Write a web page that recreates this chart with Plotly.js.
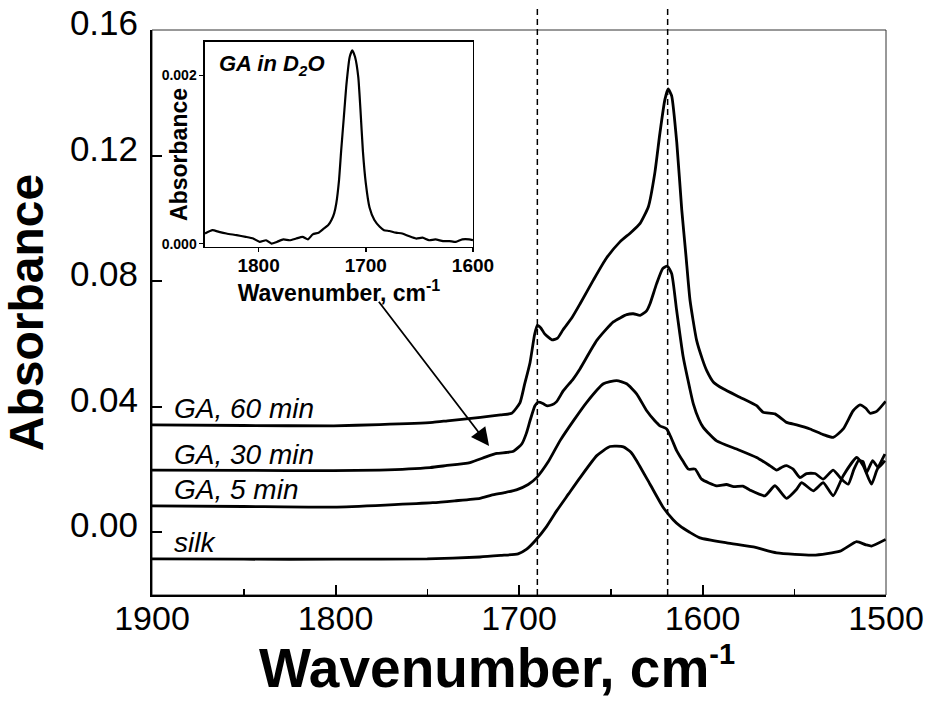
<!DOCTYPE html>
<html>
<head>
<meta charset="utf-8">
<script src="https://cdn.plot.ly/plotly-3.0.1.min.js"></script>
<style>html,body{margin:0;padding:0;background:#fff}#chart{width:932px;height:704px}</style>
</head>
<body>
<div id="chart"></div>
<script>
// ---- data ----
const wn60 = [1900,1850,1801,1776,1747,1739,1721,1710,1704,1699.5,1697,1694,1691.5,1690,1688,1686,1682,1679,1676,1671,1666.7,1659.5,1652.5,1645,1639,1634,1629.5,1626,1623.2,1620.5,1618.7,1616.8,1614,1611.3,1609,1606.8,1603.2,1600,1597.7,1594,1588.7,1579.6,1570.5,1566.9,1560.5,1554.2,1548.7,1541.4,1534.2,1528.8,1523.3,1517.9,1514.2,1511,1508.7,1505.1,1500.2];
const abs60 = [0.0342,0.0340,0.0339,0.0343,0.0350,0.0355,0.0366,0.0374,0.0379,0.0412,0.0470,0.0540,0.0630,0.0659,0.0650,0.0632,0.0613,0.0618,0.0645,0.0685,0.0728,0.0803,0.0872,0.0925,0.0955,0.0984,0.1037,0.1144,0.1272,0.1378,0.1412,0.1390,0.1240,0.1027,0.0880,0.0739,0.0611,0.0550,0.0515,0.0478,0.0457,0.0430,0.0403,0.0382,0.0377,0.0350,0.0342,0.0329,0.0311,0.0302,0.0329,0.0387,0.0406,0.0395,0.0379,0.0385,0.0417];

const wn30 = [1900,1850,1801,1776,1748.5,1740,1726.7,1718,1712,1707,1703,1698.5,1696,1694,1691.3,1689.5,1687,1685,1682,1679.5,1675.8,1670.5,1666.7,1657.6,1648.6,1641.3,1637.7,1634,1630.5,1628.6,1625,1621.7,1619.2,1616.8,1614.1,1610.5,1607,1605,1602,1599.6,1592.3,1581.4,1570.5,1563.3,1559.6,1556.5,1554.2,1550.6,1546.9,1543.3,1538.7,1534.2,1528.8,1524.2,1520.6,1517.5,1515,1512.5,1510.6,1507.3,1504.2,1500.6];
const abs30 = [0.0198,0.0197,0.0196,0.0198,0.0206,0.0212,0.0222,0.0240,0.0251,0.0254,0.0258,0.0281,0.0315,0.0355,0.0403,0.0414,0.0410,0.0403,0.0406,0.0416,0.0451,0.0488,0.0521,0.0611,0.0670,0.0693,0.0696,0.0691,0.0705,0.0728,0.0792,0.0840,0.0848,0.0824,0.0707,0.0558,0.0460,0.0409,0.0360,0.0334,0.0291,0.0265,0.0238,0.0212,0.0198,0.0208,0.0212,0.0201,0.0174,0.0187,0.0187,0.0169,0.0198,0.0169,0.0153,0.0200,0.0228,0.0225,0.0190,0.0228,0.0206,0.0228];

const wn5 = [1900,1850,1801,1747,1735,1721.3,1715,1708,1701.4,1695,1690.4,1684,1677.7,1670,1663.1,1654,1646.8,1641.3,1635.9,1630.4,1626,1623.2,1619.5,1617,1614.1,1610.5,1607.7,1604,1600.5,1592.3,1587,1583,1578,1574.1,1566,1560.5,1554.2,1548.7,1546,1539.6,1534.2,1528.8,1523.3,1516,1512.4,1507.9,1505.1,1500.6];
const abs5 = [0.0084,0.0082,0.0080,0.0094,0.0100,0.0108,0.0118,0.0126,0.0135,0.0152,0.0174,0.0225,0.0291,0.0358,0.0414,0.0473,0.0483,0.0473,0.0441,0.0387,0.0355,0.0339,0.0329,0.0300,0.0260,0.0225,0.0201,0.0201,0.0169,0.0148,0.0152,0.0145,0.0147,0.0134,0.0116,0.0148,0.0108,0.0137,0.0158,0.0132,0.0158,0.0116,0.0180,0.0238,0.0212,0.0153,0.0196,0.0249];

const wnSilk = [1900,1850,1800,1750,1721.3,1710,1700.5,1696,1691.3,1685,1679.5,1673,1666.7,1657.6,1650.4,1643.1,1639,1635.9,1628.6,1621.3,1616,1612.3,1607,1601.4,1586.8,1572.3,1559.6,1539.6,1525,1516,1511,1507.9,1500.2];
const absSilk = [-0.0085,-0.0086,-0.0086,-0.0085,-0.0079,-0.0074,-0.0069,-0.0055,-0.0028,0.0018,0.0068,0.0122,0.0174,0.0244,0.0273,0.0272,0.0255,0.0228,0.0153,0.0078,0.0040,0.0020,0.0000,-0.0018,-0.0034,-0.0047,-0.0066,-0.0073,-0.0060,-0.0030,-0.0040,-0.0044,-0.0023];

// inset: GA in D2O
const wnGA = [1850,1843,1837,1830,1820.5,1812,1805,1799,1793,1788,1783,1777,1771,1765,1759,1754,1749.5,1744,1740,1735,1732,1729.5,1727.5,1725,1723,1720.5,1718,1715,1712.6,1710,1707,1705,1702.7,1700,1696.5,1692,1687,1683,1678,1672,1666,1660,1653,1647,1641,1635,1628,1622,1616,1610,1603.5,1600];
const absGA = [0.00012,0.00016,0.00014,0.00012,0.00010,0.00008,0.00006,0.00002,0.00004,0.00000,0.00002,0.00005,0.00004,0.00006,0.00008,0.00005,0.00011,0.00013,0.00017,0.00022,0.00028,0.00036,0.00048,0.00075,0.0011,0.0015,0.0019,0.00222,0.0023,0.00222,0.00198,0.0016,0.0011,0.00072,0.00043,0.00028,0.0002,0.00016,0.00015,0.00013,0.00012,0.00009,0.00006,0.00007,0.00004,0.00005,0.00003,0.00003,0.00002,0.00005,0.00005,0.00004];

const seriesNames = ['silk','GA, 5 min','GA, 30 min','GA, 60 min'];
const labelY = [-0.0033, 0.0135, 0.0249, 0.0395];
const labelX = 1889;
const markerLines = [1690, 1619];
const xTicks = [1900,1800,1700,1600,1500];
const xMinorTicks = [1850,1750,1650,1550];
const yTicks = [0.00,0.04,0.08,0.12,0.16];
const insetXTicks = [1800,1700,1600];
const insetYTicks = [0.000,0.002];
const arrowTail = [1777, 0.0739];
const arrowHead = [1716.3, 0.0275];

// ---- plot ----
const FONT = 'Liberation Sans, Arial, Helvetica, sans-serif';
const lineStyle = {color:'#000', width:2.8, shape:'spline', smoothing:0.5};
const xs = [wnSilk, wn5, wn30, wn60];
const ys = [absSilk, abs5, abs30, abs60];
const traces = xs.map((x,i)=>({x:x, y:ys[i], type:'scatter', mode:'lines', name:seriesNames[i], line:lineStyle, xaxis:'x', yaxis:'y', hoverinfo:'skip'}));
traces.push({x:wnGA, y:absGA, type:'scatter', mode:'lines', name:'GA in D2O', line:{color:'#000', width:2.2, shape:'spline', smoothing:0.5}, xaxis:'x2', yaxis:'y2'});

const annotations = seriesNames.map((s,i)=>({x:labelX, y:labelY[i], xref:'x', yref:'y', text:s, showarrow:false, xanchor:'left', yanchor:'middle', font:{family:FONT, size:28, style:'italic', color:'#000'}}));
annotations.push({x:1839, y:0.00212, xref:'x2', yref:'y2', text:'GA in D<sub>2</sub>O', showarrow:false, xanchor:'left', yanchor:'middle', font:{family:FONT, size:22, style:'italic', weight:'bold', color:'#000'}});
annotations.push({x:arrowHead[0], y:arrowHead[1], ax:arrowTail[0], ay:arrowTail[1], axref:'x', ayref:'y', xref:'x', yref:'y', text:'', showarrow:true, arrowhead:2, arrowsize:2, arrowwidth:1.8, arrowcolor:'#000'});
// x-axis title (placed as in the reference, slightly left of centre)
annotations.push({x:0.47, y:-0.13, xref:'paper', yref:'paper', xanchor:'center', yanchor:'middle', showarrow:false,
  text:'Wavenumber, cm<sup><span style="font-size:29px">-1</span></sup>', font:{family:FONT, size:55, weight:'bold', color:'#000'}});
// inset y-axis title (sits between the inset tick labels)
annotations.push({x:0.0368, y:0.779, xref:'paper', yref:'paper', xanchor:'center', yanchor:'middle', showarrow:false, textangle:-90,
  text:'Absorbance', font:{family:FONT, size:23, weight:'bold', color:'#000'}});

const shapes = [
  {type:'rect', xref:'paper', yref:'paper', x0:0, x1:1, y0:0, y1:1, line:{color:'#333', width:1}, layer:'below'}
];
markerLines.forEach(v=>shapes.push({type:'line', xref:'x', yref:'paper', x0:v, x1:v, y0:0, y1:1.044, line:{color:'#000', width:1.5, dash:'6px,4px'}}));

const layout = {
  width:932, height:704,
  margin:{l:152, r:46, t:30, b:109},
  paper_bgcolor:'#fff', plot_bgcolor:'rgba(0,0,0,0)',
  showlegend:false,
  font:{family:FONT, color:'#000'},
  xaxis:{range:[1900,1500], tickvals:xTicks, ticks:'inside', ticklen:10, tickwidth:2, tickcolor:'#000',
         minor:{tickvals:xMinorTicks, ticks:'inside', ticklen:6, tickwidth:1.5, tickcolor:'#000'},
         showline:true, linewidth:2, linecolor:'#000', showgrid:false, zeroline:false,
         tickfont:{family:FONT, size:34}, ticklabelstandoff:-8},
  yaxis:{range:[-0.02,0.16], tickvals:yTicks, tickformat:'.2f', ticks:'inside', ticklen:10, tickwidth:2, tickcolor:'#000',
         showline:true, linewidth:2, linecolor:'#000', showgrid:false, zeroline:false,
         tickfont:{family:FONT, size:35}, ticklabelstandoff:5, ticklabelshift:-7,
         title:{text:'Absorbance', font:{family:FONT, size:48, weight:'bold'}, standoff:12}},
  xaxis2:{domain:[0.0722,0.4373], anchor:'y2', range:[1850,1600], tickvals:insetXTicks, ticks:'outside', ticklen:4, tickwidth:1.5, tickcolor:'#000',
          showline:true, mirror:true, linewidth:1.5, linecolor:'#000', showgrid:false, zeroline:false,
          tickfont:{family:FONT, size:19, weight:'bold'}, ticklabelstandoff:-3,
          title:{text:'Wavenumber, cm<sup>-1</sup>', font:{family:FONT, size:23, weight:'bold'}, standoff:0}},
  yaxis2:{domain:[0.616,0.979], anchor:'x2', range:[-0.00004,0.0024], tickvals:insetYTicks, tickformat:'.3f', ticks:'outside', ticklen:4, tickwidth:1.5, tickcolor:'#000',
          showline:true, mirror:true, linewidth:1.5, linecolor:'#000', showgrid:false, zeroline:false,
          tickfont:{family:FONT, size:14, weight:'bold'}, ticklabelstandoff:0},
  annotations:annotations,
  shapes:shapes
};
Plotly.newPlot('chart', traces, layout, {staticPlot:true});
</script>
</body>
</html>
